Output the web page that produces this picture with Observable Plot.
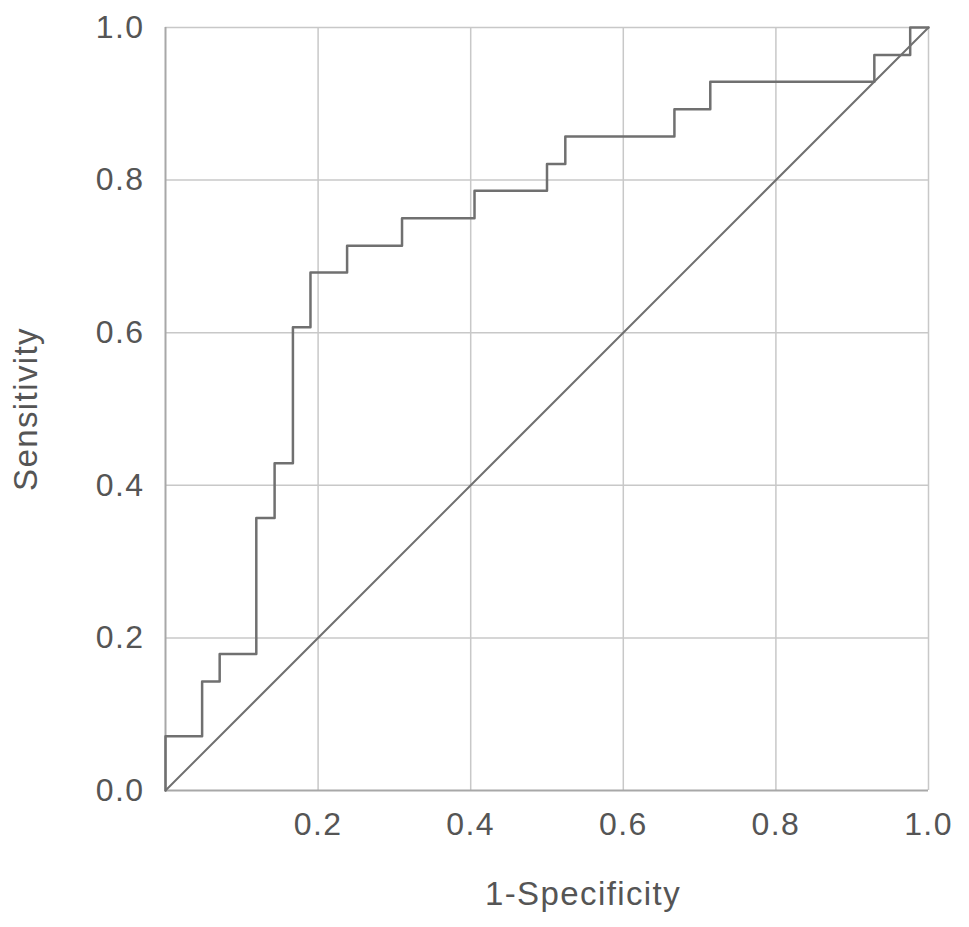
<!DOCTYPE html>
<html>
<head>
<meta charset="utf-8">
<script src="https://cdn.jsdelivr.net/npm/d3@7"></script>
<script src="https://cdn.jsdelivr.net/npm/@observablehq/plot@0.6"></script>
<style>
  body { margin: 0; background: #fff; }
  svg { font-family: "Liberation Sans", Arial, sans-serif; }
</style>
</head>
<body>
<div id="chart"></div>
<script>
// ROC curve corner points (1-Specificity, Sensitivity)
const fpr = [0, 0, 0.048, 0.071, 0.119, 0.143, 0.167, 0.190, 0.238, 0.310, 0.405, 0.500, 0.524, 0.667, 0.714, 0.929, 0.976, 1.0];
const tpr = [0, 0.071, 0.143, 0.179, 0.357, 0.429, 0.607, 0.679, 0.714, 0.750, 0.786, 0.821, 0.857, 0.893, 0.929, 0.964, 1.0, 1.0];
const refX = [0, 1];
const refY = [0, 1];
const xTicks = [0.2, 0.4, 0.6, 0.8, 1.0];
const yTicks = [0.0, 0.2, 0.4, 0.6, 0.8, 1.0];
const xTitle = "1-Specificity";
const yTitle = "Sensitivity";

const roc = fpr.map((x, i) => ({x, y: tpr[i]}));
const diag = refX.map((x, i) => ({x, y: refY[i]}));

const chart = Plot.plot({
  width: 969,
  height: 927,
  marginLeft: 165,
  marginRight: 41,
  marginTop: 27,
  marginBottom: 137,
  style: {fontSize: "32px", color: "#555", letterSpacing: "1.4px", fontFamily: "Liberation Sans, Arial, sans-serif"},
  x: {domain: [0, 1]},
  y: {domain: [0, 1]},
  marks: [
    Plot.gridX(xTicks, {stroke: "#c8c8c8", strokeOpacity: 1, strokeWidth: 1.5}),
    Plot.gridY(yTicks.filter(d => d > 0), {stroke: "#c8c8c8", strokeOpacity: 1, strokeWidth: 1.5}),
    Plot.ruleX([0], {stroke: "#a8a8a8", strokeWidth: 2}),
    Plot.ruleY([0], {stroke: "#a8a8a8", strokeWidth: 2}),
    Plot.axisX(xTicks, {tickSize: 0, tickPadding: 22, tickFormat: d3.format(".1f"), label: null, fill: "#555"}),
    Plot.axisY(yTicks, {tickSize: 0, tickPadding: 21, tickFormat: d3.format(".1f"), label: null, fill: "#555"}),
    Plot.text([xTitle], {text: d => d, frameAnchor: "bottom", textAnchor: "middle", dx: 36, dy: 104, fontSize: 33, fill: "#555", lineAnchor: "middle"}),
    Plot.text([yTitle], {text: d => d, frameAnchor: "left", textAnchor: "middle", dx: -139, dy: 0, rotate: -90, fontSize: 33, fill: "#555", lineAnchor: "middle"}),
    Plot.line(diag, {x: "x", y: "y", stroke: "#707070", strokeWidth: 2}),
    Plot.line(roc, {x: "x", y: "y", curve: "step-after", stroke: "#707070", strokeWidth: 2.5})
  ]
});
document.getElementById("chart").append(chart);
</script>
</body>
</html>
